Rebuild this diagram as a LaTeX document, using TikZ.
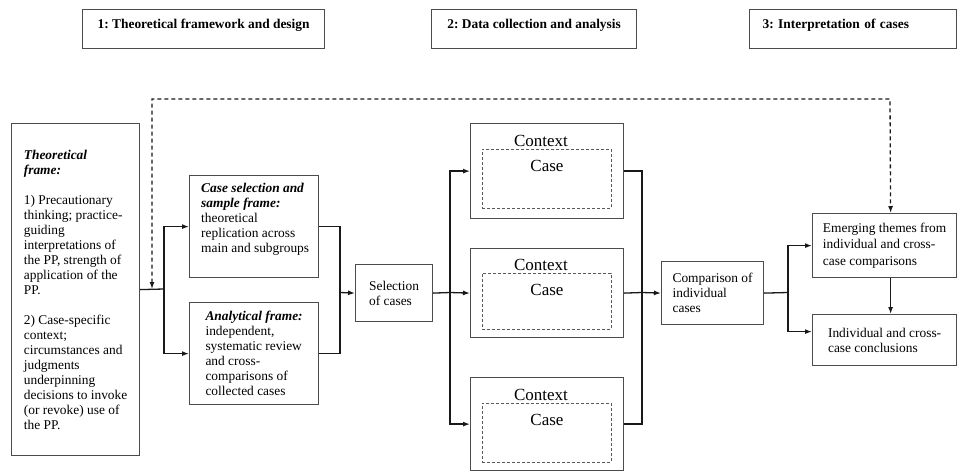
\documentclass[tikz,border=0pt]{standalone}
\usepackage{fontspec}
\setmainfont{Liberation Serif}
\usetikzlibrary{arrows.meta}
\frenchspacing
\begin{document}
\begin{tikzpicture}[x=1pt,y=-1pt,>={Latex[length=7pt,width=5pt]},
  box/.style={rectangle,draw=black!70,line width=1.2pt,anchor=north west,align=left,
    inner xsep=6pt,inner ysep=4pt,font=\fontsize{13.4}{15}\selectfont},
  head/.style={box,font=\fontsize{13.4}{15}\selectfont\bfseries,text height=14.5pt,text depth=16.5pt},
  ctxbox/.style={box,minimum width=153pt,inner sep=0pt},
  casebox/.style={rectangle,draw=black!65,densely dashed,line width=0.9pt,anchor=north west,
    minimum width=129pt,inner xsep=0pt,inner ysep=4pt,text height=18pt,font=\fontsize{17}{20}\selectfont},
  ctxlabel/.style={anchor=base,inner sep=0pt,font=\fontsize{17}{20}\selectfont},
  link/.style={line width=1.3pt,draw=black!90},
  feedback/.style={link,dash pattern=on 4pt off 3pt}]
\useasboundingbox (0,0) rectangle (957,471);
% phases
\node[head,minimum width=242pt] (phase1) at (82,9) {1: Theoretical framework and design};
\node[head,minimum width=205pt] (phase2) at (431,9) {2: Data collection and analysis};
\node[head,inner xsep=13pt,text width=181pt] (phase3) at (749,9) {3: Interpretation of cases};
% design
\node[box,minimum width=128pt,minimum height=332pt] (theo) at (11,123) {\textbf{\textit{Theoretical}}\\
  \textbf{\textit{frame:}}\\[15pt]
  1) Precautionary\\ thinking; practice-\\ guiding\\ interpretations of\\ the PP, strength of\\
  application of the\\ PP.\\[15pt]
  2) Case-specific\\ context;\\ circumstances and\\ judgments\\ underpinning\\
  decisions to invoke\\ (or revoke) use of\\ the PP.};
\node[box,minimum width=129pt,minimum height=102pt] (csel) at (189,175) {};
\node[anchor=north west,align=left,inner sep=0pt,font=\fontsize{13.4}{15}\selectfont] (cseltext)
  at ([xshift=12pt,yshift=-8pt]csel.north west) {\textbf{\textit{Case selection and}}\\
  \textbf{\textit{sample frame:}}\\ theoretical\\ replication across\\ main and subgroups};
\node[box,minimum width=129pt,minimum height=102pt] (anal) at (189,302) {\textbf{\textit{Analytical frame:}}\\
  independent,\\ systematic review\\ and cross-\\ comparisons of\\ collected cases};
\node[box,minimum width=77pt,minimum height=57pt] (sel) at (355,264) {Selection\\ of cases};
% cases in context
\node[ctxbox,minimum height=95pt] (ctx1) at (470,123) {};
\node[ctxbox,minimum height=89pt] (ctx2) at (470,248) {};
\node[ctxbox,minimum height=93pt] (ctx3) at (470,377) {};
\node[ctxlabel] (lbl1) at (541,146.5) {Context};
\node[ctxlabel] (lbl2) at (541,270) {Context};
\node[ctxlabel] (lbl3) at (541,400) {Context};
\node[casebox,text depth=33pt] (case1) at (482,149) {Case};
\node[casebox,text depth=30pt] (case2) at (482,273) {Case};
\node[casebox,text depth=33pt] (case3) at (482,403) {Case};
% interpretation
\node[box,minimum width=102pt,minimum height=63pt] (comp) at (661,261) {Comparison of\\ individual\\ cases};
\node[box,minimum width=144pt,minimum height=64pt,font=\fontsize{13.4}{16.5}\selectfont] (emerg) at (812,213) {Emerging themes from\\
  individual and cross-\\ case comparisons};
\node[box,minimum width=144pt,minimum height=51pt] (concl) at (812,314) {Individual and cross-\\ case conclusions};
% connectors
\coordinate (j1) at (164,289);
\coordinate (j2) at (340,292.5);
\coordinate (j3) at (450,292.5);
\coordinate (j4) at (642,292.5);
\coordinate (j5) at (788,292.5);
\coordinate (d1) at (152,289);
\coordinate (fb) at (890,99);
\draw[link] (theo.east) -- (j1);
\draw[link,->] (j1) |- (csel.west);
\draw[link,->] (j1) |- (anal.west);
\draw[link] (csel.east) -| (j2) |- (anal.east);
\draw[link,->] (j2) -- (sel.west);
\draw[link] (sel.east) -- (j3);
\draw[link,->] (j3) |- (ctx1.west);
\draw[link,->] (j3) -- (ctx2.west);
\draw[link,->] (j3) |- (ctx3.west);
\draw[link] (ctx1.east) -| (j4) |- (ctx3.east);
\draw[link] (ctx2.east) -- (j4);
\draw[link,->] (j4) -- (comp.west);
\draw[link] (comp.east) -- (j5);
\draw[link,->] (j5) |- (emerg.west);
\draw[link,->] (j5) |- ([yshift=8.5pt]concl.west);
\draw[link,->] ([xshift=6pt]emerg.south) -- ([xshift=6pt]concl.north);
\draw[feedback,<->] (d1) |- (fb) -- ([xshift=6pt]emerg.north);
\end{tikzpicture}
\end{document}
